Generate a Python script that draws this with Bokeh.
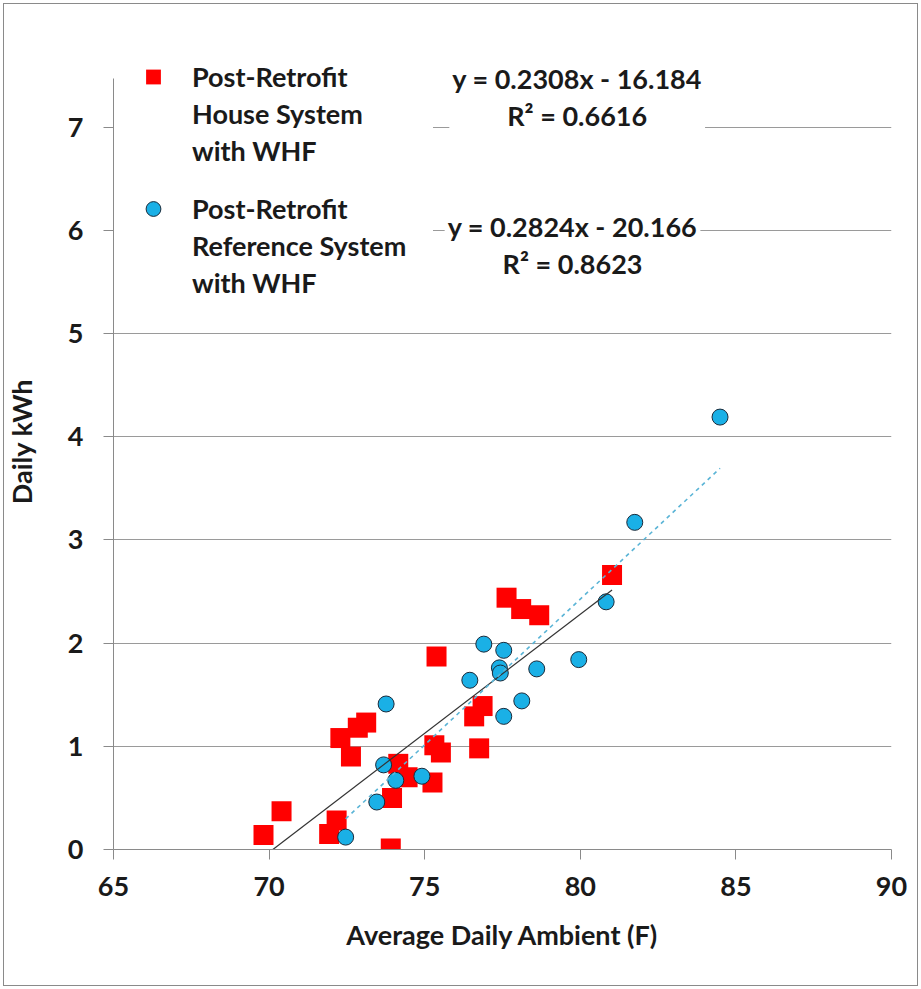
from bokeh.plotting import figure
from bokeh.models import Range1d, FixedTicker, Legend, LegendItem, Label, InlineStyleSheet
from bokeh.embed import file_html
from bokeh.resources import INLINE

# ---- data ----
house_x = [69.82, 70.40, 71.93, 72.17, 73.91, 72.29, 72.63, 72.85, 73.12, 75.38,
           74.15, 74.45, 73.95, 75.25, 75.31, 75.52, 76.59, 76.86, 76.75, 77.63,
           78.10, 78.68, 81.02]
house_y = [0.14, 0.37, 0.15, 0.28, 0.01, 1.08, 0.90, 1.18, 1.23, 1.87,
           0.83, 0.70, 0.50, 0.65, 1.01, 0.94, 1.29, 1.39, 0.98, 2.44,
           2.33, 2.27, 2.66]
ref_x = [72.46, 73.46, 73.68, 74.07, 74.91, 73.76, 76.45, 76.90, 77.54, 77.40,
         77.43, 78.60, 78.12, 77.54, 79.95, 80.83, 81.75, 84.49]
ref_y = [0.12, 0.46, 0.82, 0.67, 0.71, 1.41, 1.64, 1.99, 1.93, 1.76,
         1.71, 1.75, 1.44, 1.29, 1.84, 2.40, 3.17, 4.19]

house_slope, house_icept, house_r2 = 0.2308, -16.184, 0.6616
ref_slope, ref_icept, ref_r2 = 0.2824, -20.166, 0.8623

x_ticks = [65, 70, 75, 80, 85, 90]
y_ticks = [0, 1, 2, 3, 4, 5, 6, 7]

house_name = ["Post-Retrofit", "House System", "with WHF"]
ref_name = ["Post-Retrofit", "Reference System", "with WHF"]
x_title = "Average Daily Ambient (F)"
y_title = "Daily kWh"

FONT = "Lato"
TXT = "#1a1a1a"
FS = "27px"

p = figure(width=921, height=989, output_backend="svg", toolbar_location=None,
           x_range=Range1d(65, 90), y_range=Range1d(0, 7.907),
           min_border_left=113, min_border_right=30, min_border_top=33,
           min_border_bottom=140)
p.outline_line_color = None
p.background_fill_color = "white"
p.border_fill_alpha = 0.0
p.stylesheets = [InlineStyleSheet(css=":host { outline: 1px solid #8a8a8a; outline-offset: -4px; }")]

p.xgrid.grid_line_color = None
p.ygrid.grid_line_color = "#9a9a9a"
p.ygrid.grid_line_width = 1

for ax in (p.xaxis[0], p.yaxis[0]):
    ax.axis_line_color = "#8a8a8a"
    ax.major_tick_line_color = "#8a8a8a"
    ax.major_tick_out = 10
    ax.major_tick_in = 0
    ax.minor_tick_line_color = None
    ax.major_label_text_font = FONT
    ax.major_label_text_font_style = "bold"
    ax.major_label_text_font_size = "27px"
    ax.major_label_text_color = TXT
    ax.axis_label_text_font = FONT
    ax.axis_label_text_font_style = "bold"
    ax.axis_label_text_font_size = FS
    ax.axis_label_text_color = TXT

p.yaxis[0].bounds = (0, 7.47)
p.xaxis[0].ticker = FixedTicker(ticks=x_ticks)
p.yaxis[0].ticker = FixedTicker(ticks=y_ticks)
p.xaxis[0].axis_label = x_title
p.yaxis[0].axis_label = y_title
p.xaxis[0].major_label_standoff = 17
p.yaxis[0].major_label_standoff = 20
p.xaxis[0].axis_label_standoff = 19
p.yaxis[0].axis_label_standoff = 27

r_house = p.scatter(house_x, house_y, marker="square", size=20,
                    fill_color="#ff0000", line_color=None)
r_ref = p.scatter(ref_x, ref_y, marker="circle", size=16,
                  fill_color="#1ab0e6", line_color="#1a2a3a", line_width=1)

# trend lines from the fitted equations
hx0 = -house_icept / house_slope
hx1 = max(house_x)
p.line([hx0, hx1], [house_slope * hx0 + house_icept, house_slope * hx1 + house_icept],
       line_color="#333333", line_width=1.2)
rx0, rx1 = min(ref_x), max(ref_x)
p.line([rx0, rx1], [ref_slope * rx0 + ref_icept, ref_slope * rx1 + ref_icept],
       line_color="#5ab4d6", line_width=1.6, line_dash="4 4")

def make_legend(names, renderer, loc):
    items = [LegendItem(label=names[0], renderers=[renderer])]
    items += [LegendItem(label=n, renderers=[]) for n in names[1:]]
    lg = Legend(items=items, location=loc)
    lg.border_line_color = None
    lg.background_fill_color = "white"
    lg.background_fill_alpha = 1.0
    lg.label_text_font = FONT
    lg.label_text_font_style = "bold"
    lg.label_text_font_size = FS
    lg.label_text_color = TXT
    lg.glyph_width = 78
    lg.glyph_height = 37
    lg.label_height = 37
    lg.label_width = 241
    lg.label_standoff = 0
    lg.spacing = 0
    lg.padding = 0
    lg.margin = 0
    return lg

p.add_layout(make_legend(house_name, r_house, (1, 680)), "center")
p.add_layout(make_legend(ref_name, r_ref, (1, 548)), "center")

def eq_text(m, b, r2):
    sign = "-" if b < 0 else "+"
    return f"y = {m:.4f}x {sign} {abs(b):.3f}\nR\u00b2 = {r2:.4f}"

for txt, xv, yv in ((eq_text(house_slope, house_icept, house_r2), 79.90, 7.292),
                    (eq_text(ref_slope, ref_icept, ref_r2), 79.75, 5.862)):
    p.add_layout(Label(x=xv, y=yv, text=txt, text_align="center",
                       text_baseline="middle", text_font=FONT,
                       text_font_style="bold", text_font_size=FS,
                       text_color=TXT, text_line_height=1.12,
                       background_fill_color="white", background_fill_alpha=1.0,
                       padding=3))

open("out.html", "w").write(file_html(p, INLINE))
